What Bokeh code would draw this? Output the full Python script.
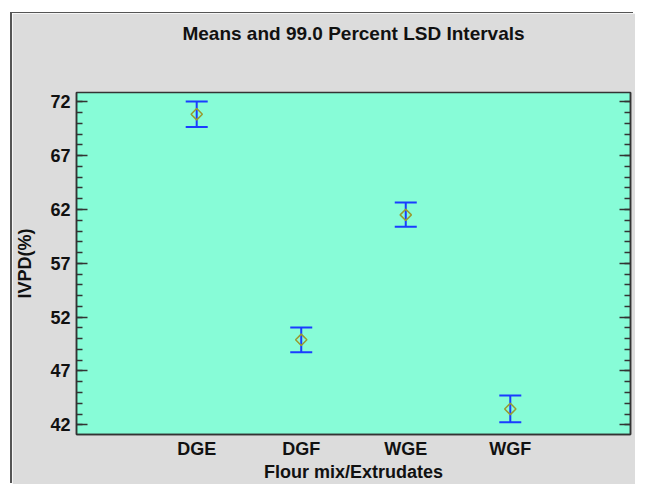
import math
from bokeh.plotting import figure
from bokeh.models import (Range1d, FixedTicker, LinearAxis, Whisker, TeeHead,
                          ColumnDataSource)
from bokeh.embed import file_html
from bokeh.resources import INLINE

# ---- data ----
categories = ["DGE", "DGF", "WGE", "WGF"]
means = [70.85, 49.9, 61.5, 43.47]
lower = [69.67, 48.75, 60.39, 42.23]
upper = [72.03, 51.03, 62.64, 44.72]
y_major_ticks = [42, 47, 52, 57, 62, 67, 72]

title_text = "Means and 99.0 Percent LSD Intervals"
x_label = "Flour mix/Extrudates"
y_label = "IVPD(%)"

xs = [i + 1 for i in range(len(categories))]
src = ColumnDataSource(dict(x=xs, mean=means, lower=lower, upper=upper))

FONT = "Liberation Sans"
GRAY = "#dcdcdc"
AXC = "#333333"
TXT = "#111111"

p = figure(width=623, height=471, output_backend="svg", toolbar_location=None,
           x_range=Range1d(-0.15, 5.15), y_range=Range1d(41.1, 72.87),
           min_border_left=63, min_border_right=5, min_border_top=79,
           min_border_bottom=44)
p.margin = (13, 0, 0, 12)
p.styles = {"box-shadow": "-2px -1px 0 #555555"}
p.background_fill_color = "#87fcd7"
p.border_fill_color = GRAY
p.outline_line_color = AXC
p.outline_line_width = 1.5
p.grid.visible = False

xa = p.below[0]
ya = p.left[0]

# title
p.title.text = title_text
p.title.align = "center"
p.title.text_font = FONT
p.title.text_font_size = "19px"
p.title.text_font_style = "bold"
p.title.text_color = TXT

# invisible top axis used only as spacing between the title and the frame
sp = LinearAxis(ticker=FixedTicker(ticks=[], minor_ticks=[]))
sp.axis_line_alpha = 0
sp.major_tick_out = 0
sp.major_tick_in = 0
sp.minor_tick_out = 0
sp.minor_tick_in = 0
sp.major_label_text_alpha = 0
sp.major_label_text_font_size = "1px"
sp.axis_label = " "
sp.axis_label_text_font_size = "1px"
sp.axis_label_standoff = 40
p.add_layout(sp, "above")

def style_y(ax, labels=True):
    ax.ticker = FixedTicker(ticks=y_major_ticks, minor_ticks=list(range(41, 74)))
    ax.major_tick_in = 11
    ax.major_tick_out = 0
    ax.minor_tick_in = 6
    ax.minor_tick_out = 0
    ax.axis_line_color = AXC
    ax.axis_line_width = 1.5
    ax.major_tick_line_color = AXC
    ax.minor_tick_line_color = AXC
    ax.major_tick_line_width = 1.5
    ax.minor_tick_line_width = 1.5
    if labels:
        ax.major_label_text_font = FONT
        ax.major_label_text_font_size = "18px"
        ax.major_label_text_font_style = "bold"
        ax.major_label_text_color = TXT
        ax.major_label_standoff = 6
    else:
        ax.major_label_text_alpha = 0
        ax.major_label_text_font_size = "1px"
        ax.major_label_standoff = 0

style_y(ya)
ya.axis_label = y_label
ya.axis_label_text_font = FONT
ya.axis_label_text_font_size = "18px"
ya.axis_label_text_font_style = "bold"
ya.axis_label_text_color = TXT
ya.axis_label_standoff = 12

ra = LinearAxis()
style_y(ra, labels=False)
p.add_layout(ra, "right")

# x axis (bottom)
xa.ticker = FixedTicker(ticks=xs, minor_ticks=[])
xa.major_label_overrides = {x: c for x, c in zip(xs, categories)}
xa.axis_label = x_label
xa.axis_label_text_font = FONT
xa.axis_label_text_font_size = "18px"
xa.axis_label_text_font_style = "bold"
xa.axis_label_text_color = TXT
xa.axis_label_standoff = 0
xa.major_label_text_font = FONT
xa.major_label_text_font_size = "18px"
xa.major_label_text_font_style = "bold"
xa.major_label_text_color = TXT
xa.major_label_standoff = 4
xa.major_tick_in = 0
xa.major_tick_out = 0
xa.minor_tick_in = 0
xa.minor_tick_out = 0
xa.axis_line_color = AXC
xa.axis_line_width = 1.5

# error bars
BLUE = "#1a3cff"
w = Whisker(source=src, base="x", lower="lower", upper="upper",
            line_color=BLUE, line_width=2,
            upper_head=TeeHead(size=22, line_color=BLUE, line_width=2),
            lower_head=TeeHead(size=22, line_color=BLUE, line_width=2))
p.add_layout(w)

# means
p.scatter("x", "mean", source=src, marker="square", angle=math.pi / 4, size=8,
          fill_color=None, line_color="#9a9a30", line_width=1.5)

open("out.html", "w").write(file_html(p, INLINE))
